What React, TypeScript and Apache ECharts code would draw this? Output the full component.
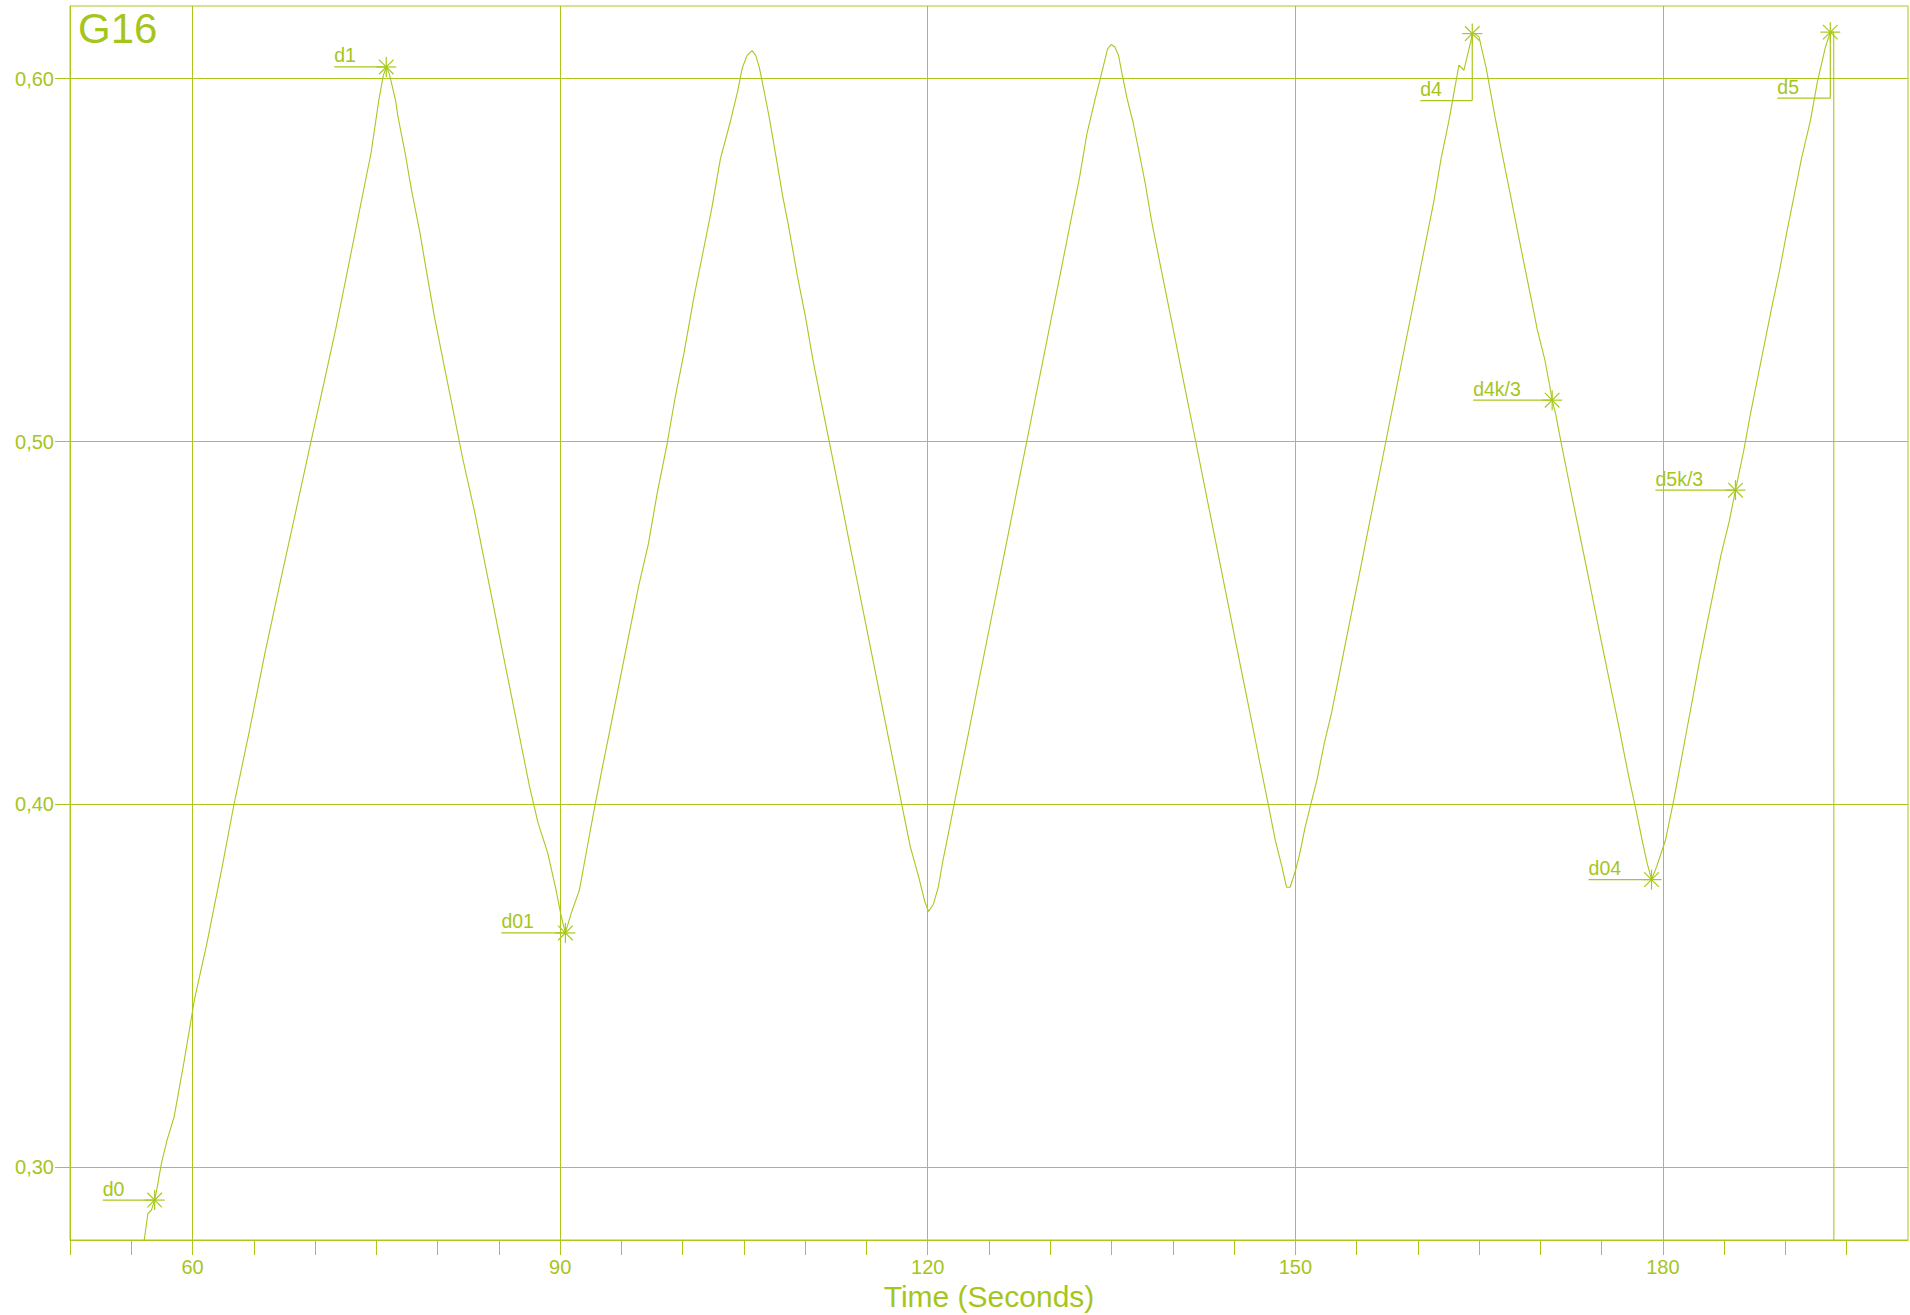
import React, { useEffect, useRef } from 'react';
import * as echarts from 'echarts';

const LINE_COLOR = '#a8c81e';
const TEXT_COLOR = '#a6c51c';
const FONT = '"Liberation Sans", Arial, Helvetica, sans-serif';

const chartTitle = 'G16';
const xAxisName = 'Time (Seconds)';
const xMin = 50;
const xMax = 200;
const yMin = 0.28;
const yMax = 0.62;
const xTickValues = [50, 55, 60, 65, 70, 75, 80, 85, 90, 95, 100, 105, 110, 115, 120, 125, 130, 135, 140, 145, 150, 155, 160, 165, 170, 175, 180, 185, 190, 195];
const xLabelValues = [60, 90, 120, 150, 180];
const yTickValues = [0.3, 0.4, 0.5, 0.6];
const gridLinesX = [60, 90, 120, 150, 180];
const gridLinesY = [0.3, 0.4, 0.5, 0.6];

// [time (s), value]
const rise1 = [
  [55.85, 0.275], [56.36, 0.2873], [56.64, 0.2882], [56.91, 0.291], [57.1, 0.2942], [57.46, 0.3011], [57.92, 0.3075],
  [58.5, 0.314], [59.3, 0.329], [60.16, 0.3463], [61.15, 0.3614], [62.44, 0.3832], [63.34, 0.3993], [64.63, 0.4201],
  [65.92, 0.4419], [67.31, 0.4637], [68.41, 0.4805], [69.6, 0.499], [70.59, 0.5141], [71.68, 0.5309], [72.78, 0.5493],
  [73.87, 0.5678], [74.57, 0.5795], [75.2, 0.594], [75.56, 0.6007], [75.81, 0.6032],
];
const fall1 = [
  [76.06, 0.6013], [76.57, 0.594], [76.76, 0.5896], [77.35, 0.5795], [77.86, 0.5695], [78.55, 0.5577], [79.05, 0.5477],
  [79.75, 0.5342], [80.54, 0.5208], [81.24, 0.5091], [82.03, 0.4956], [83.03, 0.4805], [83.82, 0.4671], [84.52, 0.4554],
  [85.21, 0.4436], [86.01, 0.4302], [86.8, 0.4168], [87.5, 0.405], [88.19, 0.395], [88.99, 0.3866], [89.67, 0.3764],
  [90.1, 0.369], [90.43, 0.3646],
];
const rise2 = [
  [90.9, 0.37], [91.57, 0.3764], [92.2, 0.388], [92.8, 0.399], [93.44, 0.4101], [94.14, 0.4218], [94.93, 0.4352],
  [95.73, 0.4487], [96.42, 0.4604], [97.22, 0.4721], [97.91, 0.4856], [98.71, 0.499], [99.4, 0.5124], [100.1, 0.5242],
  [100.89, 0.5393], [101.69, 0.5527], [102.38, 0.5644], [103.08, 0.5779], [103.87, 0.5879], [104.47, 0.5963],
  [104.87, 0.603], [105.26, 0.6064], [105.66, 0.6077],
];
const fall2 = [
  [105.96, 0.6064], [106.26, 0.603], [106.66, 0.5963], [107.05, 0.5896], [107.65, 0.5779], [108.15, 0.5678],
  [108.64, 0.5594], [109.34, 0.546], [110.03, 0.5342], [110.63, 0.5225], [111.32, 0.5107], [112.02, 0.499],
  [112.82, 0.4856], [113.61, 0.4721], [114.31, 0.4604], [115.0, 0.4487], [115.8, 0.4352], [116.59, 0.4218],
  [117.29, 0.4101], [117.98, 0.3983], [118.58, 0.3883], [119.27, 0.3799], [119.77, 0.3731], [120.07, 0.3705],
];
const rise3 = [
  [120.46, 0.3725], [120.86, 0.3772], [121.26, 0.3849], [121.76, 0.3933], [122.25, 0.4017], [122.75, 0.4101],
  [123.35, 0.4201], [123.94, 0.4302], [124.54, 0.4403], [125.23, 0.452], [125.93, 0.4637], [126.53, 0.4738],
  [127.22, 0.4856], [127.92, 0.4973], [128.71, 0.5107], [129.41, 0.5225], [130.1, 0.5342], [130.9, 0.5476],
  [131.69, 0.5611], [132.39, 0.5728], [132.98, 0.5846], [133.68, 0.5946], [134.18, 0.6013], [134.67, 0.6081],
  [134.97, 0.6094], [135.27, 0.6087],
];
const fall3 = [
  [135.57, 0.6064], [135.86, 0.6013], [136.26, 0.5946], [136.76, 0.5879], [137.26, 0.5795], [137.75, 0.5711],
  [138.25, 0.5611], [138.84, 0.551], [139.44, 0.5409], [140.04, 0.5309], [140.63, 0.5208], [141.23, 0.5107],
  [141.83, 0.5007], [142.42, 0.4906], [143.12, 0.4788], [143.81, 0.4671], [144.41, 0.457], [145.1, 0.4453],
  [145.8, 0.4335], [146.4, 0.4235], [147.09, 0.4117], [147.79, 0.4], [148.38, 0.3899], [148.88, 0.3832],
  [149.28, 0.3772], [149.57, 0.3772], [149.77, 0.3792],
];
const rise4 = [
  [150.07, 0.3825], [150.37, 0.3866], [150.77, 0.3933], [151.26, 0.4], [151.76, 0.4067], [152.36, 0.4168],
  [152.95, 0.4252], [153.55, 0.4352], [154.14, 0.4453], [154.74, 0.4554], [155.34, 0.4654], [155.93, 0.4755],
  [156.53, 0.4856], [157.13, 0.4956], [157.72, 0.5057], [158.32, 0.5158], [158.91, 0.5258], [159.51, 0.5359],
  [160.11, 0.546], [160.7, 0.556], [161.3, 0.5661], [161.89, 0.5779], [162.54, 0.5885], [163.35, 0.6037],
  [163.76, 0.6023], [164.31, 0.6101], [164.44, 0.6124], [164.58, 0.6125],
];
const fall4 = [
  [164.99, 0.6115], [165.58, 0.6028], [166.35, 0.5885], [166.96, 0.5779], [167.56, 0.5678], [168.15, 0.5577],
  [168.75, 0.5476], [169.25, 0.5393], [169.74, 0.5309], [170.37, 0.5224], [170.75, 0.5155], [170.96, 0.5114],
  [171.24, 0.5077], [171.65, 0.5004], [172.43, 0.4872], [173.22, 0.4742], [174.01, 0.4611], [174.81, 0.4476],
  [175.6, 0.4346], [176.4, 0.4215], [177.19, 0.408], [177.8, 0.3985], [178.3, 0.3902], [178.7, 0.384], [179.07, 0.3793],
];
const rise5 = [
  [179.5, 0.383], [180.21, 0.3902], [180.87, 0.401], [181.37, 0.41], [181.86, 0.419], [182.36, 0.428], [182.96, 0.439],
  [183.55, 0.449], [184.15, 0.459], [184.74, 0.4688], [185.43, 0.4783], [185.92, 0.4866], [186.6, 0.4976],
  [187.13, 0.5074], [187.72, 0.5174], [188.32, 0.5275], [188.92, 0.5376], [189.51, 0.547], [190.11, 0.5577],
  [190.71, 0.5678], [191.3, 0.5779], [192.04, 0.5885], [192.6, 0.599], [193.26, 0.6087], [193.66, 0.6128],
  [193.94, 0.6128], [193.95, 0.25],
];

const annotationNames = ['d0', 'd1', 'd01', 'd4', 'd4k/3', 'd04', 'd5k/3', 'd5'];
const annotationTimes = [56.91, 75.81, 90.43, 164.44, 170.96, 179.07, 185.92, 193.66];
const annotationValues = [0.291, 0.6032, 0.3646, 0.6124, 0.5114, 0.3793, 0.4866, 0.6128];
// leader layout in pixels (style, not data)
const annotationLeaderLength = [52, 52, 64, 52, 79, 63, 80, 53];
const annotationLeaderDrop = [0, 0, 0, 67, 0, 0, 0, 66];

export default function App() {
  const ref = useRef<HTMLDivElement>(null);

  useEffect(() => {
    document.body.style.margin = '0';
    if (!ref.current) return;
    const chart = echarts.init(ref.current, undefined, { renderer: 'svg' });

    const lineData = [...rise1, ...fall1, ...rise2, ...fall2, ...rise3, ...fall3, ...rise4, ...fall4, ...rise5];
    const annData = annotationNames.map((_, i) => [annotationTimes[i], annotationValues[i], i]);

    const gridStyle = { color: LINE_COLOR, width: 1, type: 'solid' as const };

    const option: any = {
      animation: false,
      backgroundColor: '#ffffff',
      textStyle: { fontFamily: FONT },
      grid: {
        left: 70,
        right: 2,
        top: 6,
        bottom: 75,
        show: true,
        borderColor: LINE_COLOR,
        borderWidth: 1,
        backgroundColor: 'transparent',
        containLabel: false,
        outerBoundsMode: 'none',
      },
      graphic: [
        {
          type: 'text',
          x: 78,
          y: 28,
          silent: true,
          style: {
            text: chartTitle,
            fill: TEXT_COLOR,
            fontSize: 42,
            fontFamily: FONT,
            align: 'left',
            verticalAlign: 'middle',
          },
        },
      ],
      xAxis: {
        type: 'value',
        min: xMin,
        max: xMax,
        interval: 5,
        name: xAxisName,
        nameLocation: 'middle',
        nameGap: 41,
        nameTextStyle: { color: TEXT_COLOR, fontSize: 30, fontFamily: FONT },
        axisLine: { show: true, lineStyle: { color: LINE_COLOR, width: 1 } },
        axisTick: {
          show: true,
          inside: false,
          length: 15,
          customValues: xTickValues,
          lineStyle: { color: LINE_COLOR, width: 1 },
        },
        axisLabel: {
          show: true,
          customValues: xLabelValues,
          margin: 17,
          color: TEXT_COLOR,
          fontSize: 20,
          fontFamily: FONT,
          formatter: (v: number) => (xLabelValues.indexOf(v) >= 0 ? String(v) : ''),
        },
        splitLine: { show: false },
      },
      yAxis: {
        type: 'value',
        min: yMin,
        max: yMax,
        axisLine: { show: true, lineStyle: { color: LINE_COLOR, width: 1 } },
        axisTick: {
          show: true,
          inside: false,
          length: 15,
          customValues: yTickValues,
          lineStyle: { color: LINE_COLOR, width: 1 },
        },
        axisLabel: {
          show: true,
          customValues: yTickValues,
          margin: 16,
          color: TEXT_COLOR,
          fontSize: 20,
          fontFamily: FONT,
          formatter: (v: number) => v.toFixed(2).replace('.', ','),
        },
        splitLine: { show: false },
      },
      series: [
        {
          type: 'line',
          data: lineData,
          showSymbol: false,
          symbol: 'none',
          smooth: false,
          clip: true,
          silent: true,
          lineStyle: { color: LINE_COLOR, width: 1.1 },
          markLine: {
            silent: true,
            symbol: ['none', 'none'],
            label: { show: false },
            lineStyle: gridStyle,
            emphasis: { disabled: true },
            data: [
              ...gridLinesX.map((x) => ({ xAxis: x })),
              ...gridLinesY.map((y) => ({ yAxis: y })),
            ],
          },
          z: 3,
        },
        {
          type: 'custom',
          data: annData,
          silent: true,
          z: 4,
          encode: { x: 0, y: 1 },
          renderItem: (_params: any, api: any) => {
            const i = api.value(2);
            const pt = api.coord([api.value(0), api.value(1)]);
            const cx = pt[0];
            const cy = pt[1];
            const len = annotationLeaderLength[i];
            const drop = annotationLeaderDrop[i];
            const ly = cy + drop;
            const st = { stroke: LINE_COLOR, lineWidth: 1.2 };
            const r = 10;
            const d = 7.3;
            const children: any[] = [
              { type: 'line', shape: { x1: cx - len, y1: ly, x2: cx, y2: ly }, style: st },
              { type: 'line', shape: { x1: cx - r, y1: cy, x2: cx + r, y2: cy }, style: st },
              { type: 'line', shape: { x1: cx, y1: cy - r, x2: cx, y2: cy + r }, style: st },
              { type: 'line', shape: { x1: cx - d, y1: cy - d, x2: cx + d, y2: cy + d }, style: st },
              { type: 'line', shape: { x1: cx - d, y1: cy + d, x2: cx + d, y2: cy - d }, style: st },
              {
                type: 'text',
                x: cx - len,
                y: ly - 11.5,
                style: {
                  text: annotationNames[i],
                  fill: TEXT_COLOR,
                  fontSize: 19.5,
                  fontFamily: FONT,
                  align: 'left',
                  verticalAlign: 'middle',
                },
              },
            ];
            if (drop) {
              children.push({ type: 'line', shape: { x1: cx, y1: cy, x2: cx, y2: ly }, style: st });
            }
            return { type: 'group', children };
          },
        },
      ],
    };

    chart.setOption(option);
    return () => {
      chart.dispose();
    };
  }, []);

  return <div ref={ref} style={{ width: 1910, height: 1315 }} />;
}
